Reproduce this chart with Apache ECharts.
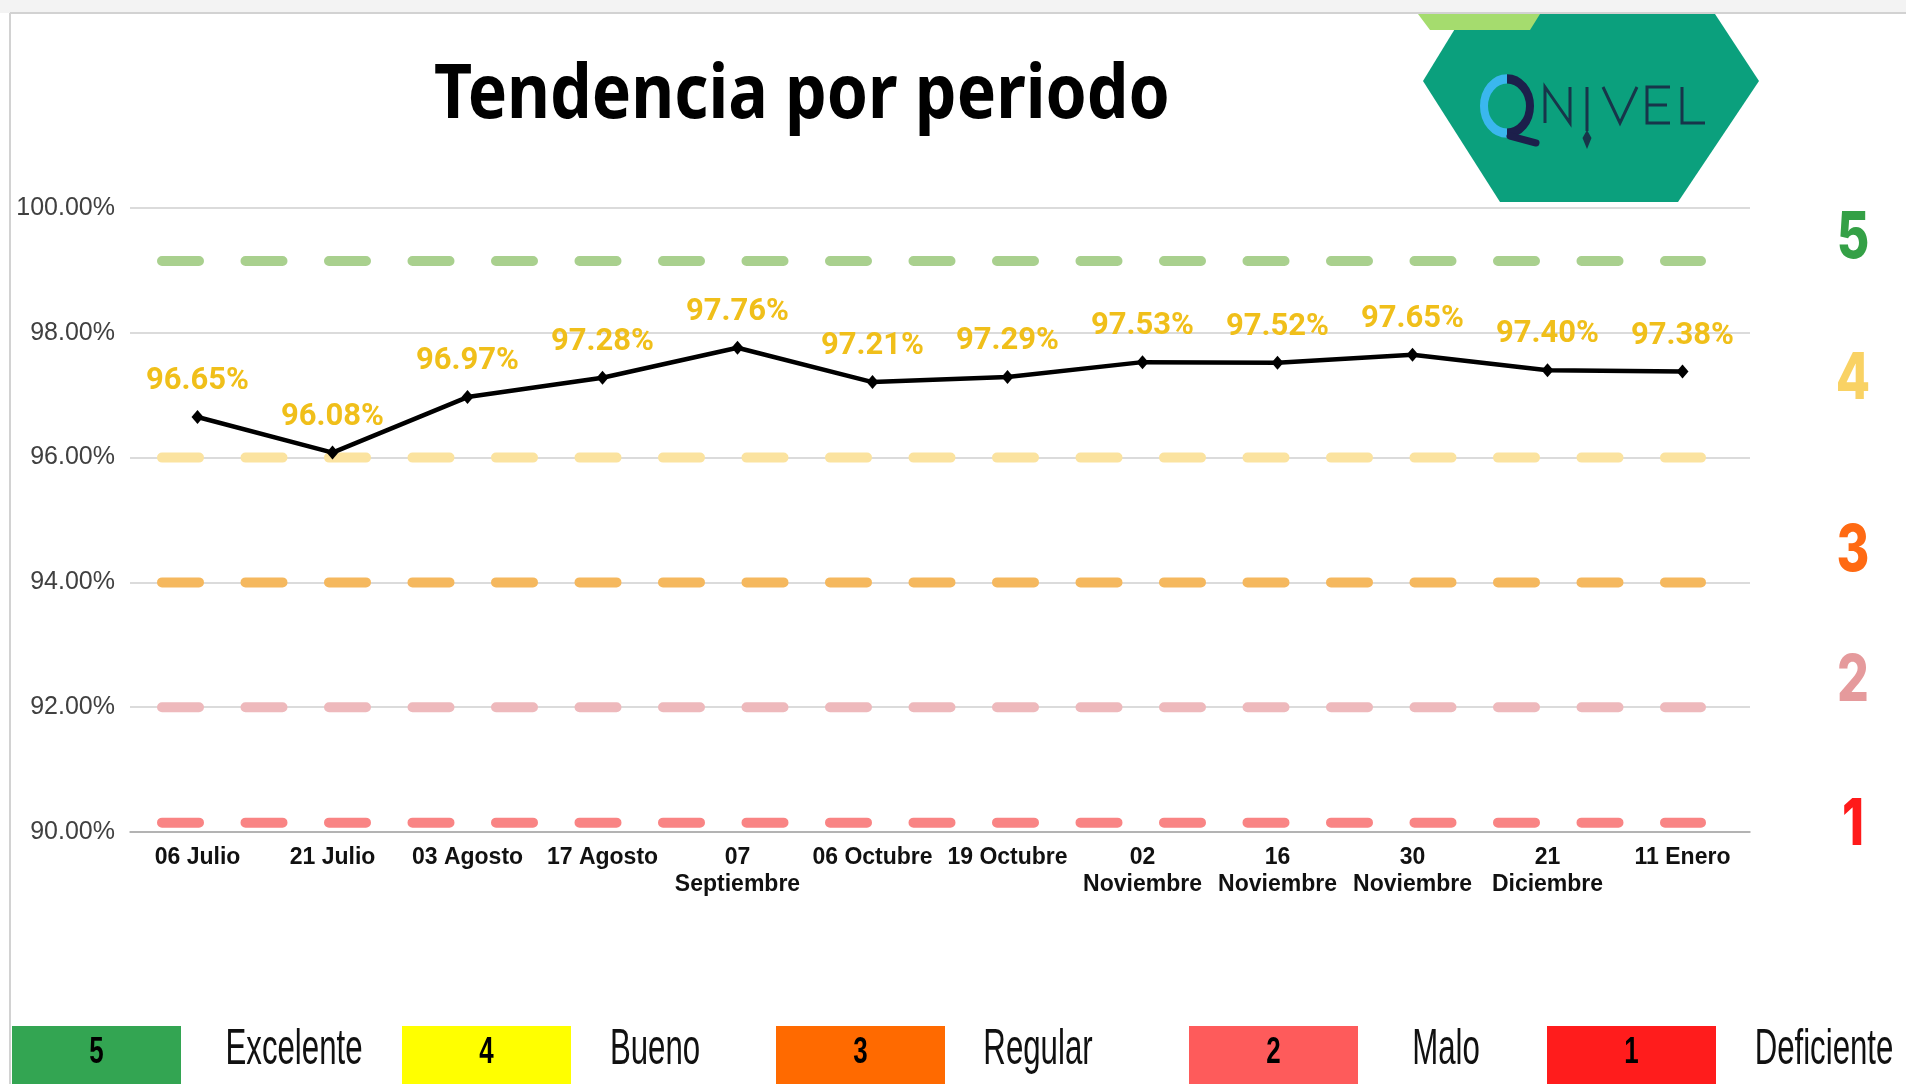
<!DOCTYPE html>
<html>
<head>
<meta charset="utf-8">
<title>Tendencia por periodo</title>
<script src="https://cdn.jsdelivr.net/npm/echarts@6/dist/echarts.min.js"></script>
<style>
  html, body { margin: 0; padding: 0; background: #fff; }
  #chart { width: 1906px; height: 1084px; }
</style>
</head>
<body>
<div id="chart"></div>
<script>
// data
const periods = ['06 Julio', '21 Julio', '03 Agosto', '17 Agosto', '07\nSeptiembre', '06 Octubre',
  '19 Octubre', '02\nNoviembre', '16\nNoviembre', '30\nNoviembre', '21\nDiciembre', '11 Enero'];
const scores = [96.65, 96.08, 96.97, 97.28, 97.76, 97.21, 97.29, 97.53, 97.52, 97.65, 97.40, 97.38];
const yMin = 90;
const yMax = 100;
const yStep = 2;
const levelNumbers = ['5', '4', '3', '2', '1'];
const levelNames = ['Excelente', 'Bueno', 'Regular', 'Malo', 'Deficiente'];
const levelLines = [99.15, 96.00, 94.00, 92.00, 90.15];

// styles
const dashColors = ['#a9d08e', '#fbe3a0', '#f5b85e', '#eeb9bc', '#f98484'];
const boxColors = ['#33a552', '#ffff00', '#ff6a00', '#fe5b5b', '#ff1c1c'];
const digitColors = ['#34a046', '#f9d264', '#ff6a13', '#e59a9c', '#ff1a1a'];
const boxLeft = [12, 402, 776, 1189, 1547];
const nameCenter = [294, 655, 1038, 1446, 1824];
const digitY = [239, 380, 552, 682, 826];

const buildLogo = () => {
    const navy = '#1c1f4b';
    const ink = '#17354a';
    const letter = (points) => ({
        type: 'polyline', z: 12,
        shape: { points: points },
        style: { stroke: ink, lineWidth: 3, fill: null }
    });
    return [
        {
            type: 'polygon', z: 10,
            shape: { points: [[1464, 14], [1715, 14], [1759, 81], [1678, 202], [1500, 202], [1423, 81]] },
            style: { fill: '#0ba07d' }
        },
        {
            type: 'polygon', z: 11,
            shape: { points: [[1418, 14], [1540, 14], [1530, 30], [1430, 30]] },
            style: { fill: '#a5dc6e' }
        },
        {
            type: 'arc', z: 12, x: 1507, y: 106, scaleY: 1.18,
            shape: { cx: 0, cy: 0, r: 23, startAngle: Math.PI / 2, endAngle: Math.PI * 1.5, clockwise: true },
            style: { stroke: '#3ab7ee', lineWidth: 8, fill: null }
        },
        {
            type: 'arc', z: 12, x: 1507, y: 106, scaleY: 1.18,
            shape: { cx: 0, cy: 0, r: 23, startAngle: -Math.PI / 2, endAngle: Math.PI / 2, clockwise: true },
            style: { stroke: navy, lineWidth: 8, fill: null }
        },
        {
            type: 'line', z: 12,
            shape: { x1: 1510, y1: 136, x2: 1536, y2: 143 },
            style: { stroke: navy, lineWidth: 7, lineCap: 'round' }
        },
        letter([[1545, 123], [1545, 87], [1570, 123], [1570, 87]]),
        letter([[1587, 87], [1587, 131]]),
        {
            type: 'polygon', z: 12,
            shape: { points: [[1587, 130], [1591.5, 138], [1587, 149], [1582.5, 138]] },
            style: { fill: ink }
        },
        letter([[1603, 87], [1620, 123], [1637, 87]]),
        letter([[1670, 87], [1647, 87], [1647, 123], [1670, 123]]),
        letter([[1647, 105], [1667, 105]]),
        letter([[1682, 87], [1682, 123], [1705, 123]])
    ];
};

const buildGraphics = () => {
    const items = [
        { type: 'rect', z: 1, shape: { x: 0, y: 0, width: 1906, height: 13 }, style: { fill: '#f3f3f3' } },
        { type: 'line', z: 2, shape: { x1: 10, y1: 13, x2: 1906, y2: 13 }, style: { stroke: '#d2d2d2', lineWidth: 2 } },
        { type: 'line', z: 2, shape: { x1: 10, y1: 13, x2: 10, y2: 1084 }, style: { stroke: '#d2d2d2', lineWidth: 2 } },
        {
            type: 'text', z: 5, x: 802, y: 96, scaleX: 0.87,
            style: {
                text: 'Tendencia por periodo', fill: '#000',
                fontFamily: 'Noto Sans', fontWeight: 'bold', fontSize: 76,
                align: 'center', verticalAlign: 'middle'
            }
        }
    ];
    levelNumbers.forEach((num, i) => {
        items.push({
            type: 'text', z: 5, x: 1853, y: digitY[i], scaleX: 0.78,
            style: {
                text: num, fill: digitColors[i],
                fontFamily: 'Inter', fontWeight: 800, fontSize: 64,
                align: 'center', verticalAlign: 'middle'
            }
        });
        items.push({
            type: 'rect', z: 5,
            shape: { x: boxLeft[i], y: 1026, width: 169, height: 70 },
            style: { fill: boxColors[i] }
        });
        items.push({
            type: 'text', z: 6, x: boxLeft[i] + 84.5, y: 1053, scaleX: 0.72,
            style: {
                text: num, fill: '#000',
                fontFamily: 'Liberation Sans', fontWeight: 'bold', fontSize: 36,
                align: 'center', verticalAlign: 'middle'
            }
        });
        items.push({
            type: 'text', z: 6, x: nameCenter[i], y: 1050, scaleX: 0.624,
            style: {
                text: levelNames[i], fill: '#111',
                fontFamily: 'Liberation Sans', fontSize: 50,
                align: 'center', verticalAlign: 'middle'
            }
        });
    });
    return items.concat(buildLogo());
};

const buildLevelSeries = () => levelLines.map((v, i) => ({
    name: levelNames[i],
    type: 'line',
    xAxisIndex: 1,
    yAxisIndex: 1,
    data: [v, v],
    symbol: 'none',
    silent: true,
    z: 2,
    lineStyle: { color: dashColors[i], width: 10, type: [37, 46.5], cap: 'round' }
}));

const getOption = () => {
    return {
        animation: false,
        backgroundColor: '#fff',
        textStyle: { fontFamily: 'Liberation Sans' },
        grid: [
            { left: 130, right: 156, top: 208, bottom: 252 },
            { left: 162, right: 205, top: 208, bottom: 252 }
        ],
        xAxis: [
            {
                type: 'category',
                gridIndex: 0,
                data: periods,
                boundaryGap: true,
                axisLine: { lineStyle: { color: '#a6a6a6', width: 1.5 } },
                axisTick: { show: false },
                axisLabel: {
                    interval: 0,
                    margin: 12,
                    color: '#111',
                    fontFamily: 'Liberation Sans',
                    fontWeight: 'bold',
                    fontSize: 23,
                    lineHeight: 27
                }
            },
            {
                type: 'category',
                gridIndex: 1,
                data: ['', ''],
                boundaryGap: false,
                show: false
            }
        ],
        yAxis: [
            {
                type: 'value',
                gridIndex: 0,
                min: yMin,
                max: yMax,
                interval: yStep,
                axisLine: { show: false },
                axisTick: { show: false },
                splitLine: { lineStyle: { color: '#cfcfcf', width: 1.5 } },
                axisLabel: {
                    margin: 15,
                    color: '#404040',
                    fontFamily: 'Liberation Sans',
                    fontSize: 25,
                    formatter: (v) => v.toFixed(2) + '%'
                }
            },
            {
                type: 'value',
                gridIndex: 1,
                min: yMin,
                max: yMax,
                show: false
            }
        ],
        graphic: buildGraphics(),
        series: buildLevelSeries().concat([
            {
                name: 'Tendencia',
                type: 'line',
                data: scores,
                z: 5,
                symbol: 'diamond',
                symbolSize: [12, 14],
                itemStyle: { color: '#000' },
                lineStyle: { color: '#000', width: 4.5 },
                label: {
                    show: true,
                    position: 'top',
                    distance: 13,
                    color: '#f0bf1a',
                    fontFamily: 'Roboto',
                    fontWeight: 'bold',
                    fontSize: 31,
                    formatter: (p) => p.value.toFixed(2) + '%'
                }
            }
        ])
    };
};

const initChart = () => {
    const chart = echarts.init(document.getElementById('chart'));
    chart.setOption(getOption());
};

window.addEventListener('load', () => {
    initChart();
});
</script>
</body>
</html>
